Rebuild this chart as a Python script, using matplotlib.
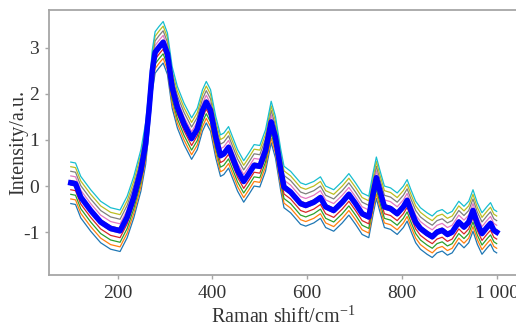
import matplotlib
matplotlib.use('Agg')
import matplotlib.pyplot as plt

# Raman shift (cm-1) and mean intensity
shift = [101, 111, 122, 143, 164, 185, 205, 220, 234, 249, 259, 266, 273, 279,
         287, 296, 305, 315, 326, 340, 356, 368, 379, 387, 396, 407, 417, 424,
         434, 442, 453, 466, 477, 488, 500, 512, 524, 533, 544, 551, 565, 586,
         597, 614, 628, 639, 656, 674, 688, 702, 716, 730, 739, 746, 753, 763,
         776, 790, 803, 811, 819, 829, 839, 853, 864, 874, 885, 896, 906, 920,
         931, 941, 950, 959, 969, 980, 987, 994, 1000]
mean_int = [0.07, 0.05, -0.24, -0.53, -0.78, -0.92, -0.97, -0.67, -0.24, 0.34,
            0.92, 1.64, 2.5, 2.9, 3.01, 3.12, 2.87, 2.14, 1.71, 1.35, 1.03, 1.24,
            1.64, 1.82, 1.64, 1.06, 0.66, 0.70, 0.84, 0.63, 0.34, 0.10, 0.27,
            0.45, 0.43, 0.77, 1.39, 1.06, 0.36, -0.02, -0.13, -0.38, -0.42,
            -0.35, -0.25, -0.45, -0.53, -0.35, -0.18, -0.38, -0.60, -0.67,
            -0.17, 0.18, -0.09, -0.45, -0.49, -0.60, -0.45, -0.31, -0.53,
            -0.78, -0.92, -1.03, -1.10, -1.00, -0.96, -1.05, -1.00, -0.78,
            -0.89, -0.78, -0.53, -0.81, -1.03, -0.89, -0.81, -0.96, -1.00]

# vertical offset of each of the ten individual spectra from the mean
offsets = [-0.45, -0.35, -0.25, -0.15, -0.05, 0.05, 0.15, 0.25, 0.35, 0.45]

xticks = [200, 400, 600, 800, 1000]
xtick_labels = ['200', '400', '600', '800', '1 000']
yticks = [-1, 0, 1, 2, 3]

plt.rcParams['font.family'] = ['Liberation Serif', 'DejaVu Serif']
plt.rcParams['axes.unicode_minus'] = False

fig = plt.figure(figsize=(5.16, 3.29), dpi=100)
ax = fig.add_axes([49 / 516, 1 - 275 / 329, 469 / 516, 265 / 329])

cmap = plt.get_cmap('tab10')
for i, off in enumerate(offsets):
    ax.plot(shift, [v + off for v in mean_int], color=cmap(i), lw=0.9)
ax.plot(shift, mean_int, color='#0000ff', lw=4)

ax.set_xlim(55, 1045)
ax.set_ylim(-1.93, 3.82)
ax.set_xticks(xticks)
ax.set_xticklabels(xtick_labels)
ax.set_yticks(yticks)

for s in ax.spines.values():
    s.set_color('#a6a6a6')
    s.set_linewidth(1.3)
ax.tick_params(direction='out', length=3, width=1, color='#a6a6a6',
               labelsize=14, labelcolor='#333333', pad=4)
ax.set_xlabel('Raman shift/cm$^{\\mathregular{-1}}$', fontsize=14.5,
              color='#333333')
ax.set_ylabel('Intensity/a.u.', fontsize=14.5, color='#333333')
ax.yaxis.set_label_coords(-0.045, 0.5)
ax.xaxis.set_label_coords(0.5, -0.115)

fig.savefig('out.png', dpi=100)
